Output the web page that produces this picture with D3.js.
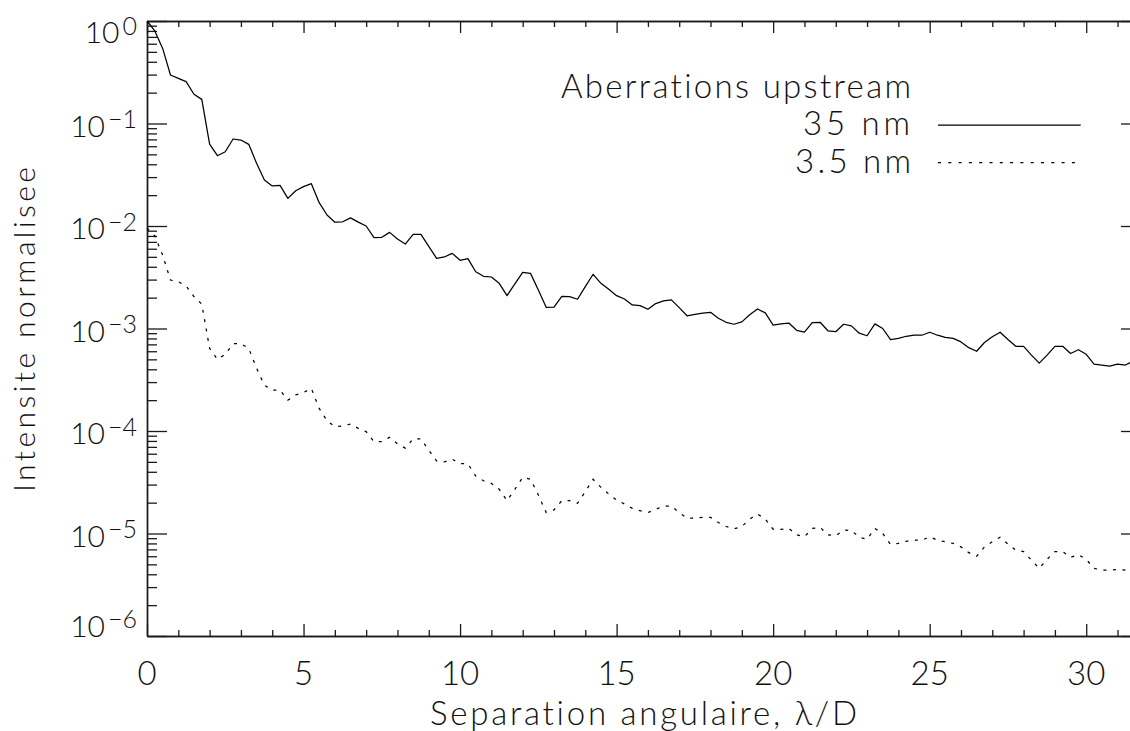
<!DOCTYPE html>
<html>
<head>
<meta charset="utf-8">
<script src="https://cdn.jsdelivr.net/npm/d3@7"></script>
<style>
  html, body { margin: 0; padding: 0; background: #fff; }
  svg { display: block; }
  text { font-family: Lato, "DejaVu Sans", sans-serif; font-weight: 300; fill: #111;
         font-variant-ligatures: none; font-feature-settings: "liga" 0, "clig" 0; }
</style>
</head>
<body>
<svg id="chart" width="1130" height="731"></svg>
<script>
// ---------------- DATA ----------------
const separation = [
  0,0.25,0.5,0.75,1,1.25,1.5,1.75,2,2.25,2.5,2.75,3,3.25,3.5,3.75,4,4.25,4.5,4.75,
  5,5.25,5.5,5.75,6,6.25,6.5,6.75,7,7.25,7.5,7.75,8,8.25,8.5,8.75,9,9.25,9.5,9.75,
  10,10.25,10.5,10.75,11,11.25,11.5,11.75,12,12.25,12.5,12.75,13,13.25,13.5,13.75,14,14.25,14.5,14.75,
  15,15.25,15.5,15.75,16,16.25,16.5,16.75,17,17.25,17.5,17.75,18,18.25,18.5,18.75,19,19.25,19.5,19.75,
  20,20.25,20.5,20.75,21,21.25,21.5,21.75,22,22.25,22.5,22.75,23,23.25,23.5,23.75,24,24.25,24.5,24.75,
  25,25.25,25.5,25.75,26,26.25,26.5,26.75,27,27.25,27.5,27.75,28,28.25,28.5,28.75,29,29.25,29.5,29.75,
  30,30.25,30.5,30.75,31,31.25,31.5
];

// Aberrations upstream 35 nm (solid)
const intensity35 = [
  1.0,0.80,0.54,0.297,0.276,0.256,0.193,0.172,0.063,0.0485,
  0.053,0.0706,0.069,0.0626,0.0409,0.0281,0.0246,0.0249,0.0186,0.0221,
  0.0242,0.0259,0.0169,0.0128,0.0109,0.0110,0.0120,0.0109,0.0100,0.0077,
  0.00775,0.00867,0.00746,0.00667,0.0083,0.0083,0.00634,0.00484,0.00499,0.00541,
  0.00463,0.0048,0.00358,0.00323,0.00318,0.00276,0.00209,0.00272,0.00353,0.00345,
  0.00238,0.00161,0.00162,0.00206,0.00205,0.00193,0.00256,0.00338,0.00276,0.00241,
  0.00209,0.00194,0.00170,0.00167,0.00154,0.00175,0.00186,0.0019,0.0016,0.00133,
  0.00137,0.00141,0.00144,0.00126,0.00115,0.0011,0.00116,0.00136,0.00155,0.00142,
  0.00108,0.00111,0.00113,0.00096,0.00092,0.00114,0.00115,0.00095,0.00093,0.0011,
  0.00106,0.0009,0.00085,0.00111,0.001,0.00078,0.0008,0.00084,0.00086,0.00086,
  0.00092,0.00086,0.00082,0.0008,0.00074,0.00065,0.0006,0.00073,0.00083,0.00092,
  0.00078,0.00067,0.00067,0.00055,0.00046,0.00055,0.00067,0.00067,0.00057,0.00062,
  0.00056,0.00045,0.00044,0.00043,0.00045,0.00044,0.00048
];

// Aberrations upstream 3.5 nm (dotted)
const intensity3p5 = [
  9.5e-3,8.0e-3,5.2e-3,2.97e-3,2.86e-3,2.6e-3,2.05e-3,1.73e-3,6.4e-4,5.0e-4,
  5.6e-4,7.1e-4,7.1e-4,6.4e-4,4.1e-4,2.8e-4,2.5e-4,2.5e-4,2.0e-4,2.25e-4,
  2.38e-4,2.6e-4,1.66e-4,1.26e-4,1.10e-4,1.12e-4,1.17e-4,1.06e-4,9.86e-5,7.87e-5,
  7.87e-5,8.67e-5,7.5e-5,6.8e-5,8.4e-5,8.4e-5,6.5e-5,5.1e-5,5.0e-5,5.3e-5,
  4.8e-5,4.8e-5,3.64e-5,3.27e-5,3.09e-5,2.7e-5,2.09e-5,2.7e-5,3.53e-5,3.38e-5,
  2.38e-5,1.6e-5,1.7e-5,2.09e-5,2.09e-5,1.97e-5,2.56e-5,3.38e-5,2.82e-5,2.43e-5,
  2.12e-5,1.94e-5,1.76e-5,1.67e-5,1.6e-5,1.72e-5,1.85e-5,1.85e-5,1.6e-5,1.41e-5,
  1.41e-5,1.44e-5,1.44e-5,1.28e-5,1.17e-5,1.11e-5,1.17e-5,1.38e-5,1.55e-5,1.38e-5,
  1.1e-5,1.1e-5,1.12e-5,9.7e-6,9.3e-6,1.12e-5,1.15e-5,9.7e-6,9.5e-6,1.08e-5,
  1.07e-5,9.2e-6,8.8e-6,1.12e-5,1.0e-5,7.8e-6,8.0e-6,8.4e-6,8.6e-6,8.6e-6,
  9.3e-6,8.6e-6,8.3e-6,8.0e-6,7.4e-6,6.5e-6,6.0e-6,7.4e-6,8.3e-6,9.2e-6,
  7.9e-6,6.9e-6,6.65e-6,5.5e-6,4.57e-6,5.6e-6,6.65e-6,6.65e-6,5.85e-6,6.2e-6,
  5.6e-6,4.57e-6,4.4e-6,4.4e-6,4.45e-6,4.4e-6,4.75e-6
];

const xTickValues = [0, 5, 10, 15, 20, 25, 30];
const xTickLabels = ["0", "5", "10", "15", "20", "25", "30"];
const yTickExponents = [0, -1, -2, -3, -4, -5, -6];
const legendTitle = "Aberrations upstream";
const seriesNames = ["35 nm", "3.5 nm"];
const xTitle = "Separation angulaire, λ/D";
const yTitle = "Intensite normalisee";

// ---------------- LAYOUT ----------------
const L = 147, R = 1141, T = 21, B = 636;
const svg = d3.select("#chart");

const x = d3.scaleLinear().domain([0, 31.75]).range([L, R]);
const y = d3.scaleLog().domain([1e-6, 1]).range([B, T]);

const axisColor = "#1a1a1a";

const yMajor = yTickExponents.map(e => Math.pow(10, e));
const yMinor = [];
for (let e = -6; e < 0; e++) for (let m = 2; m <= 9; m++) yMinor.push(m * Math.pow(10, e));
const xMinor = d3.range(0, 32, 1).filter(v => v % 5 !== 0);

function styleAxis(g) {
  g.selectAll("path.domain").attr("stroke", axisColor).attr("stroke-width", 1.4);
  g.selectAll(".tick line").attr("stroke", axisColor).attr("stroke-width", 1.3);
  g.selectAll(".tick text").remove();
}

// bottom
svg.append("g").attr("transform", `translate(0,${B})`)
  .call(d3.axisBottom(x).tickValues(xTickValues).tickSize(-12).tickSizeOuter(0)).call(styleAxis);
svg.append("g").attr("transform", `translate(0,${B})`)
  .call(d3.axisBottom(x).tickValues(xMinor).tickSize(-6).tickSizeOuter(0)).call(styleAxis);
// top
svg.append("g").attr("transform", `translate(0,${T})`)
  .call(d3.axisTop(x).tickValues(xTickValues).tickSize(-12).tickSizeOuter(0)).call(styleAxis);
svg.append("g").attr("transform", `translate(0,${T})`)
  .call(d3.axisTop(x).tickValues(xMinor).tickSize(-6).tickSizeOuter(0)).call(styleAxis);
// left
svg.append("g").attr("transform", `translate(${L},0)`)
  .call(d3.axisLeft(y).tickValues(yMajor).tickSize(-20).tickSizeOuter(0)).call(styleAxis);
svg.append("g").attr("transform", `translate(${L},0)`)
  .call(d3.axisLeft(y).tickValues(yMinor).tickSize(-10).tickSizeOuter(0)).call(styleAxis);
// right
svg.append("g").attr("transform", `translate(${R},0)`)
  .call(d3.axisRight(y).tickValues(yMajor).tickSize(-20).tickSizeOuter(0)).call(styleAxis);
svg.append("g").attr("transform", `translate(${R},0)`)
  .call(d3.axisRight(y).tickValues(yMinor).tickSize(-10).tickSizeOuter(0)).call(styleAxis);

// x tick labels
svg.append("g").selectAll("text").data(xTickValues).join("text")
  .attr("x", d => x(d)).attr("y", 685)
  .attr("text-anchor", "middle")
  .attr("font-size", 33)
  .text((d, i) => xTickLabels[i]);

// y tick labels 10^e
const yl = svg.append("g").selectAll("text").data(yTickExponents).join("text")
  .attr("x", 137)
  .attr("y", e => {
    let b = y(Math.pow(10, e)) + 13.3;
    b = Math.max(b, 43.3);
    b = Math.min(b, 636.7);
    return b;
  })
  .attr("text-anchor", "end")
  .attr("font-size", 30);
yl.append("tspan").text("10");
yl.append("tspan").attr("dy", -8.5).attr("dx", 3).attr("font-size", 25)
  .text(e => e === 0 ? "0" : "\u2212" + Math.abs(e));

// axis titles
svg.append("text").attr("x", 430).attr("y", 725)
  .attr("font-size", 33).attr("textLength", 427).attr("lengthAdjust", "spacing")
  .text(xTitle);
svg.append("text")
  .attr("transform", "translate(35,492) rotate(-90)")
  .attr("x", 0).attr("y", 0)
  .attr("font-size", 30).attr("textLength", 325).attr("lengthAdjust", "spacing")
  .text(yTitle);

// curves
const line = d3.line().x((d, i) => x(separation[i])).y(d => y(d));
svg.append("path").datum(intensity35)
  .attr("d", line).attr("fill", "none").attr("stroke", "#000").attr("stroke-width", 1.25)
  .attr("stroke-linejoin", "round");
svg.append("path").datum(intensity3p5)
  .attr("d", line).attr("fill", "none").attr("stroke", "#000").attr("stroke-width", 1.25)
  .attr("stroke-dasharray", "3,6.5");

// legend
svg.append("text").attr("x", 561).attr("y", 97.7)
  .attr("font-size", 33).attr("textLength", 350).attr("lengthAdjust", "spacing")
  .text(legendTitle);
svg.append("text").attr("x", 803).attr("y", 135)
  .attr("font-size", 33).attr("textLength", 107).attr("lengthAdjust", "spacing")
  .text(seriesNames[0]);
svg.append("text").attr("x", 795).attr("y", 172.7)
  .attr("font-size", 33).attr("textLength", 116).attr("lengthAdjust", "spacing")
  .text(seriesNames[1]);
svg.append("line").attr("x1", 938).attr("x2", 1080.7).attr("y1", 125).attr("y2", 125)
  .attr("stroke", "#000").attr("stroke-width", 1.25);
svg.append("line").attr("x1", 938).attr("x2", 1080.7).attr("y1", 162.7).attr("y2", 162.7)
  .attr("stroke", "#000").attr("stroke-width", 1.25).attr("stroke-dasharray", "3,7.3");
</script>
</body>
</html>
